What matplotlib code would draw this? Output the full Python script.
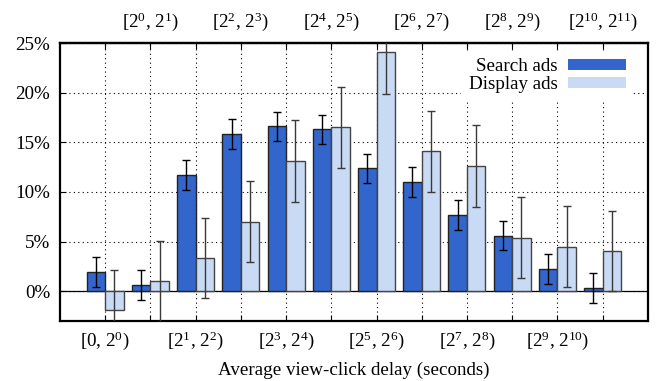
import numpy as np
import matplotlib
matplotlib.use("Agg")
import matplotlib.pyplot as plt
from matplotlib.patches import Patch

plt.rcParams['font.family'] = ['Liberation Serif', 'DejaVu Serif']
plt.rcParams['mathtext.fontset'] = 'custom'
plt.rcParams['mathtext.rm'] = 'Liberation Serif'
plt.rcParams['mathtext.it'] = 'Liberation Serif:italic'

# delay buckets, label exponents
bins = ['[0, $2^{0}$)', '[$2^{0}$, $2^{1}$)', '[$2^{1}$, $2^{2}$)', '[$2^{2}$, $2^{3}$)',
        '[$2^{3}$, $2^{4}$)', '[$2^{4}$, $2^{5}$)', '[$2^{5}$, $2^{6}$)', '[$2^{6}$, $2^{7}$)',
        '[$2^{7}$, $2^{8}$)', '[$2^{8}$, $2^{9}$)', '[$2^{9}$, $2^{10}$)', '[$2^{10}$, $2^{11}$)']
search = [1.9, 0.65, 11.7, 15.8, 16.6, 16.3, 12.4, 11.0, 7.7, 5.6, 2.2, 0.3]
search_err = [1.5, 1.5, 1.5, 1.5, 1.5, 1.5, 1.45, 1.5, 1.5, 1.45, 1.5, 1.5]
display = [-1.85, 1.0, 3.35, 7.0, 13.1, 16.5, 24.1, 14.1, 12.6, 5.4, 4.5, 4.05]
display_err = [4.0, 4.07, 4.05, 4.1, 4.1, 4.1, 4.2, 4.1, 4.1, 4.05, 4.1, 4.05]

c_search = '#3366cc'
c_display = '#c9daf5'
fs = 13.7

x = np.arange(len(bins))
w = 0.41

fig = plt.figure(figsize=(6.57, 3.81), dpi=100)
ax = fig.add_axes([0.0913, 0.1575, 0.8947, 0.7295])

ax.grid(True, linestyle=(0, (1, 3)), color='black', linewidth=0.8, zorder=0)
ax.set_axisbelow(True)
ax.axhline(0, color='black', linewidth=0.9, zorder=1)

ax.bar(x - w / 2, search, w, color=c_search, edgecolor='#222222', linewidth=1, zorder=2)
ax.bar(x + w / 2, display, w, color=c_display, edgecolor='#444444', linewidth=1, zorder=2)
ax.errorbar(x - w / 2, search, yerr=search_err, fmt='none', ecolor='black',
            elinewidth=1, capsize=3.1, capthick=1, zorder=3)
ax.errorbar(x + w / 2, display, yerr=display_err, fmt='none', ecolor='#3a3a3a',
            elinewidth=1, capsize=3.1, capthick=1, zorder=3)

ax.set_xlim(-1, 12)
ax.set_ylim(-3, 25)
ax.set_yticks(range(0, 26, 5))
ax.set_yticklabels(['%d%%' % v for v in range(0, 26, 5)])
ax.set_xticks(x)
ax.set_xticklabels([b if i % 2 == 0 else '' for i, b in enumerate(bins)])
ax.tick_params(axis='both', direction='in', length=4, labelsize=fs, pad=7)
ax.tick_params(axis='x', top=True, pad=6)

top = ax.secondary_xaxis('top')
top.set_xticks(x[1::2])
top.set_xticklabels(bins[1::2])
top.tick_params(direction='in', length=0, labelsize=fs, pad=7)

for s in ax.spines.values():
    s.set_linewidth(1.6)
for s in top.spines.values():
    s.set_linewidth(1.6)

ax.set_xlabel('Average view-click delay (seconds)', fontsize=fs, labelpad=7)

handles = [Patch(facecolor=c_search, edgecolor='none', label='Search ads'),
           Patch(facecolor=c_display, edgecolor='none', label='Display ads')]
leg = ax.legend(handles=handles, loc='upper right', bbox_to_anchor=(0.988, 1.0),
                fontsize=fs, markerfirst=False,
                handlelength=3.0, handleheight=0.5, labelspacing=0.05,
                frameon=True, framealpha=1, edgecolor='none', fancybox=False,
                borderaxespad=0.4, handletextpad=0.55)

fig.savefig('out.png', dpi=100)
